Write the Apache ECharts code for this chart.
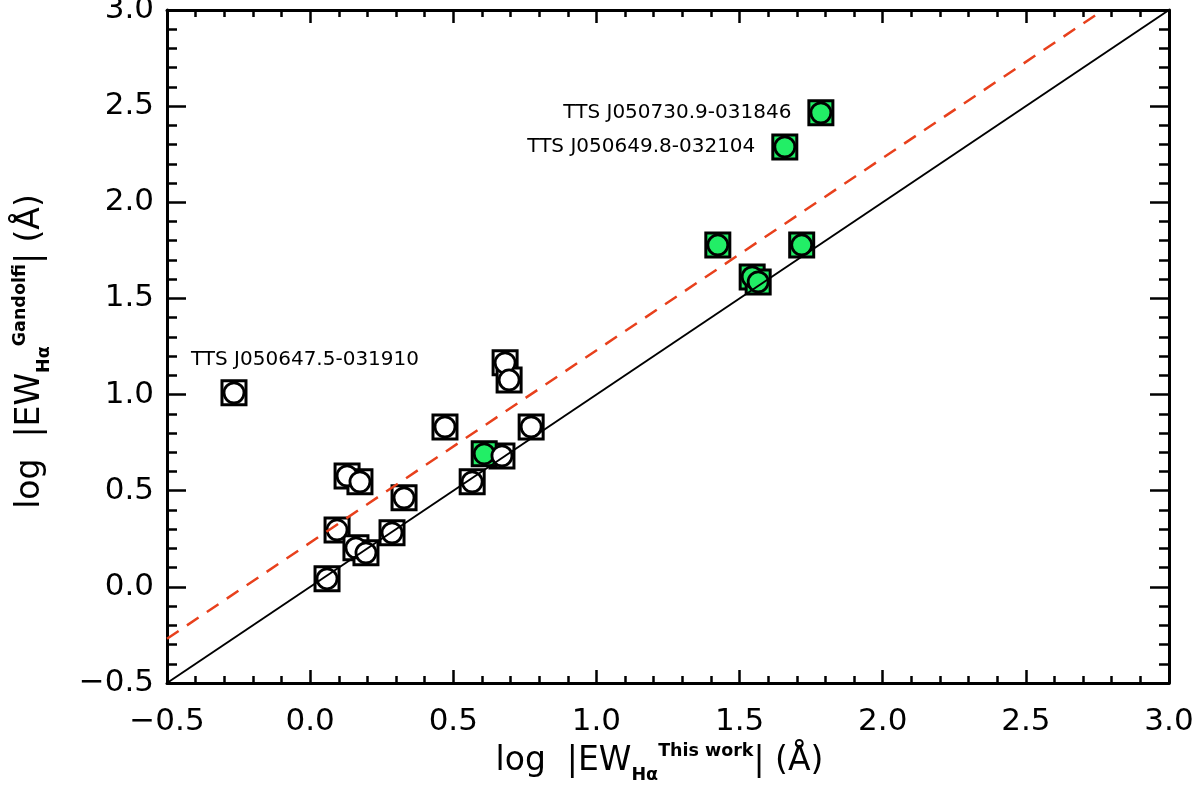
<!DOCTYPE html>
<html><head><meta charset="utf-8">
<script src="https://cdn.jsdelivr.net/npm/echarts@6/dist/echarts.min.js"></script>
<style>html,body{margin:0;padding:0;background:#fff}#c{width:1200px;height:791px}</style>
</head><body><div id="c"></div>
<script>
// open (white) points: [log EW this work, log EW Gandolfi]
const openPoints = [
  [-0.266, 1.009], [0.059, 0.042], [0.094, 0.296], [0.129, 0.577], [0.174, 0.546],
  [0.160, 0.203], [0.195, 0.177], [0.286, 0.281], [0.328, 0.463], [0.471, 0.832],
  [0.566, 0.546], [0.670, 0.681], [0.681, 1.165], [0.695, 1.076], [0.772, 0.832]
];
const openLabels = ['TTS J050647.5-031910', '', '', '', '', '', '', '', '', '', '', '', '', '', ''];
// green (filled) points
const greenPoints = [
  [0.608, 0.692], [1.784, 2.465], [1.658, 2.288], [1.424, 1.778], [1.717, 1.778],
  [1.544, 1.612], [1.565, 1.586]
];
const greenLabels = ['', 'TTS J050730.9-031846', 'TTS J050649.8-032104', '', '', '', ''];
// reference lines
const oneToOne = [[-0.5, -0.5], [3.0, 3.0]];
const fitLine = [[-0.5, -0.27], [2.77, 3.0]];
const xTicks = [-0.5, 3.0, 0.5];
const yTicks = [-0.5, 3.0, 0.5];

const FONT = 'DejaVu Sans';
const GREEN = '#22ee66';
const fmt = v => v.toFixed(1).replace('-', '\u2212');

function labelFor(text, kind) {
  if (!text) return undefined;
  if (kind === 'open') {
    return {show: true, formatter: text, position: 'top', distance: 10, offset: [71, 0],
      fontFamily: FONT, fontSize: 20, color: '#000'};
  }
  return {show: true, formatter: text, position: 'left', distance: 16,
    fontFamily: FONT, fontSize: 20, color: '#000'};
}
const openSq = openPoints.map((p, i) => ({value: p, label: labelFor(openLabels[i], 'open')}));
const greenSq = greenPoints.map((p, i) => ({value: p, label: labelFor(greenLabels[i], 'green')}));

const titleRich = {
  a: {fontFamily: FONT, fontSize: 33, color: '#000', lineHeight: 46, verticalAlign: 'middle'},
  sub: {fontFamily: FONT, fontSize: 17.5, fontWeight: 'bold', color: '#000', verticalAlign: 'bottom'},
  sup: {fontFamily: FONT, fontSize: 17.5, fontWeight: 'bold', color: '#000', verticalAlign: 'top', padding: [4, 0, 0, 0]}
};

function xAxisDef(pos) {
  const top = pos === 'top';
  return {
    type: 'value', position: pos, min: xTicks[0], max: xTicks[1], interval: xTicks[2],
    axisLine: {onZero: false, lineStyle: {color: '#000', width: 3}},
    axisTick: {inside: true, length: 13, lineStyle: {color: '#000', width: 2.5}},
    minorTick: {show: true, splitNumber: 5, length: 7, lineStyle: {color: '#000', width: 2.5}},
    splitLine: {show: false}, minorSplitLine: {show: false},
    axisLabel: {show: !top, showMinLabel: true, showMaxLabel: true, fontFamily: FONT, fontSize: 31,
      color: '#000', margin: 23, formatter: fmt},
    name: top ? '' : '{a|log  |EW}{sub|H\u03b1}{sup|This work}{a|| (\u00c5)}',
    nameLocation: 'middle', nameGap: 55, nameMoveOverlap: false,
    nameTextStyle: {fontFamily: FONT, color: '#000', padding: [0, 17, 0, 0], rich: titleRich}
  };
}
function yAxisDef(pos) {
  const right = pos === 'right';
  return {
    type: 'value', position: pos, min: yTicks[0], max: yTicks[1], interval: yTicks[2],
    axisLine: {onZero: false, lineStyle: {color: '#000', width: 3}},
    axisTick: {inside: true, length: 19, lineStyle: {color: '#000', width: 2.5}},
    minorTick: {show: true, splitNumber: 5, length: 10, lineStyle: {color: '#000', width: 2.5}},
    splitLine: {show: false}, minorSplitLine: {show: false},
    axisLabel: {show: !right, showMinLabel: true, showMaxLabel: true, fontFamily: FONT, fontSize: 31,
      color: '#000', margin: 13, formatter: fmt},
    name: right ? '' : '{a|log  |EW}{sub|H\u03b1}{sup|Gandolfi}{a|| (\u00c5)}',
    nameLocation: 'middle', nameRotate: 90, nameGap: 114, nameMoveOverlap: false,
    nameTextStyle: {fontFamily: FONT, color: '#000', padding: [0, 10, 0, 0], rich: titleRich}
  };
}

const chart = echarts.init(document.getElementById('c'), null, {renderer: 'canvas'});
chart.setOption({
  backgroundColor: '#fff',
  animation: false,
  grid: {left: 167, right: 31, top: 10, bottom: 108, containLabel: false, outerBoundsMode: 'none'},
  xAxis: [xAxisDef('bottom'), xAxisDef('top')],
  yAxis: [yAxisDef('left'), yAxisDef('right')],
  series: [
    {type: 'scatter', name: 'openSq', data: openSq, symbol: 'rect', symbolSize: 24, z: 2,
      itemStyle: {color: '#fff', borderColor: '#000', borderWidth: 3, opacity: 1}},
    {type: 'scatter', name: 'greenSq', data: greenSq, symbol: 'rect', symbolSize: 24, z: 2,
      itemStyle: {color: GREEN, borderColor: '#000', borderWidth: 3, opacity: 1}},
    {type: 'scatter', name: 'greenCirc', data: greenPoints, symbol: 'circle', symbolSize: 20, z: 3,
      itemStyle: {color: GREEN, borderColor: '#000', borderWidth: 2.8, opacity: 1}},
    {type: 'scatter', name: 'openCirc', data: openPoints, symbol: 'circle', symbolSize: 20, z: 3,
      itemStyle: {color: '#fff', borderColor: '#000', borderWidth: 2.8, opacity: 1}},
    {type: 'line', data: oneToOne, symbol: 'none', z: 5, silent: true,
      lineStyle: {color: '#000', width: 2}},
    {type: 'line', data: fitLine, symbol: 'none', z: 5, silent: true,
      lineStyle: {color: '#e8401c', width: 2.5, type: [14, 10]}}
  ]
});
</script></body></html>
